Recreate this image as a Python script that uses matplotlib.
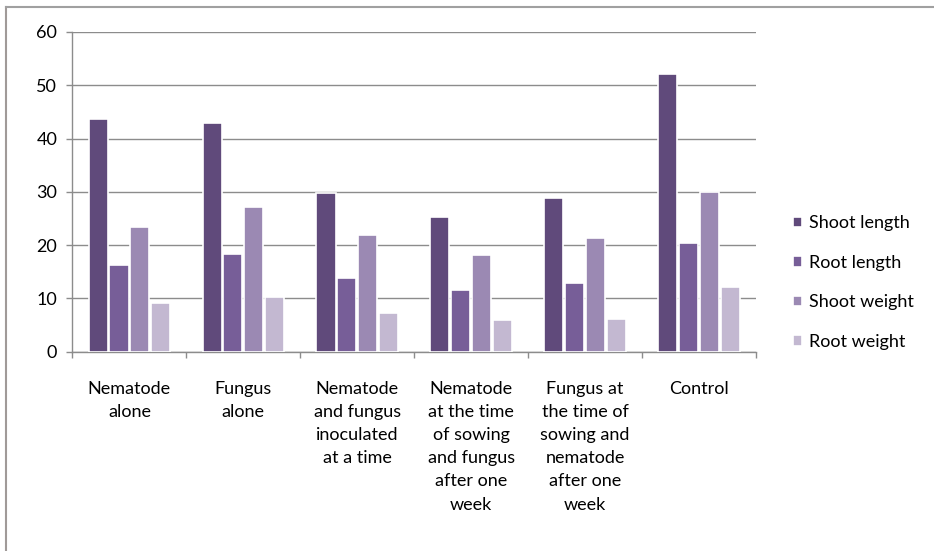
import matplotlib.pyplot as plt
import numpy as np
from matplotlib.lines import Line2D

categories = ['Nematode\nalone', 'Fungus\nalone', 'Nematode\nand fungus\ninoculated\nat a time',
              'Nematode\nat the time\nof sowing\nand fungus\nafter one\nweek',
              'Fungus at\nthe time of\nsowing and\nnematode\nafter one\nweek', 'Control']
shoot_length = [43.6, 43.0, 29.8, 25.2, 28.8, 52.1]
root_length = [16.3, 18.3, 13.8, 11.6, 12.9, 20.4]
shoot_weight = [23.4, 27.2, 21.9, 18.1, 21.4, 30.0]
root_weight = [9.2, 10.2, 7.2, 5.9, 6.1, 12.2]
series_names = ['Shoot length', 'Root length', 'Shoot weight', 'Root weight']
colors = ['#604a7b', '#775e98', '#9b89b3', '#c3b8d1']

plt.rcParams['font.family'] = ['Lato', 'DejaVu Sans']

fig = plt.figure(figsize=(9.34, 5.51), dpi=100)
ax = fig.add_axes([0.0776, 0.3617, 0.7318, 0.5803])

x = np.arange(len(categories))
step = 0.183
width = 0.168
for i, vals in enumerate([shoot_length, root_length, shoot_weight, root_weight]):
    ax.bar(x + (i - 1.5) * step, vals, width, color=colors[i], edgecolor='white',
           linewidth=1.2, label=series_names[i], zorder=3)

ax.set_xlim(-0.5, len(categories) - 0.5)
ax.set_ylim(0, 60)
ax.set_yticks(range(0, 61, 10))
ax.yaxis.grid(True, color='#8c8c8c', linewidth=1.0, zorder=0)
ax.set_axisbelow(True)

ax.set_xticks(np.arange(-0.5, len(categories), 1.0))
ax.set_xticklabels([])
ax.set_xticks(x, minor=True)
ax.set_xticklabels(categories, minor=True, fontsize=13, linespacing=1.55, va='top')
ax.tick_params(axis='x', which='minor', length=0, pad=21)
ax.tick_params(axis='x', which='major', length=4, color='#8c8c8c', width=1)
ax.tick_params(axis='y', length=4, color='#8c8c8c', width=1, pad=7, labelsize=13)

for s in ['top', 'right']:
    ax.spines[s].set_visible(False)
for s in ['left', 'bottom']:
    ax.spines[s].set_color('#8c8c8c')
    ax.spines[s].set_linewidth(1.0)

fig.legend(loc='center left', bbox_to_anchor=(0.832, 0.487), frameon=False, fontsize=13,
           handlelength=0.5, handleheight=0.5, handletextpad=0.35, labelspacing=1.3)

# frame lines of the pasted chart
fig.add_artist(Line2D([6 / 934, 6 / 934], [0, 1 - 7 / 551], color='#a09a98', linewidth=1.5,
                      transform=fig.transFigure))
fig.add_artist(Line2D([6 / 934, 1], [1 - 7 / 551, 1 - 7 / 551], color='#a0a0a0', linewidth=1.5,
                      transform=fig.transFigure))

fig.savefig('out.png', dpi=100)
